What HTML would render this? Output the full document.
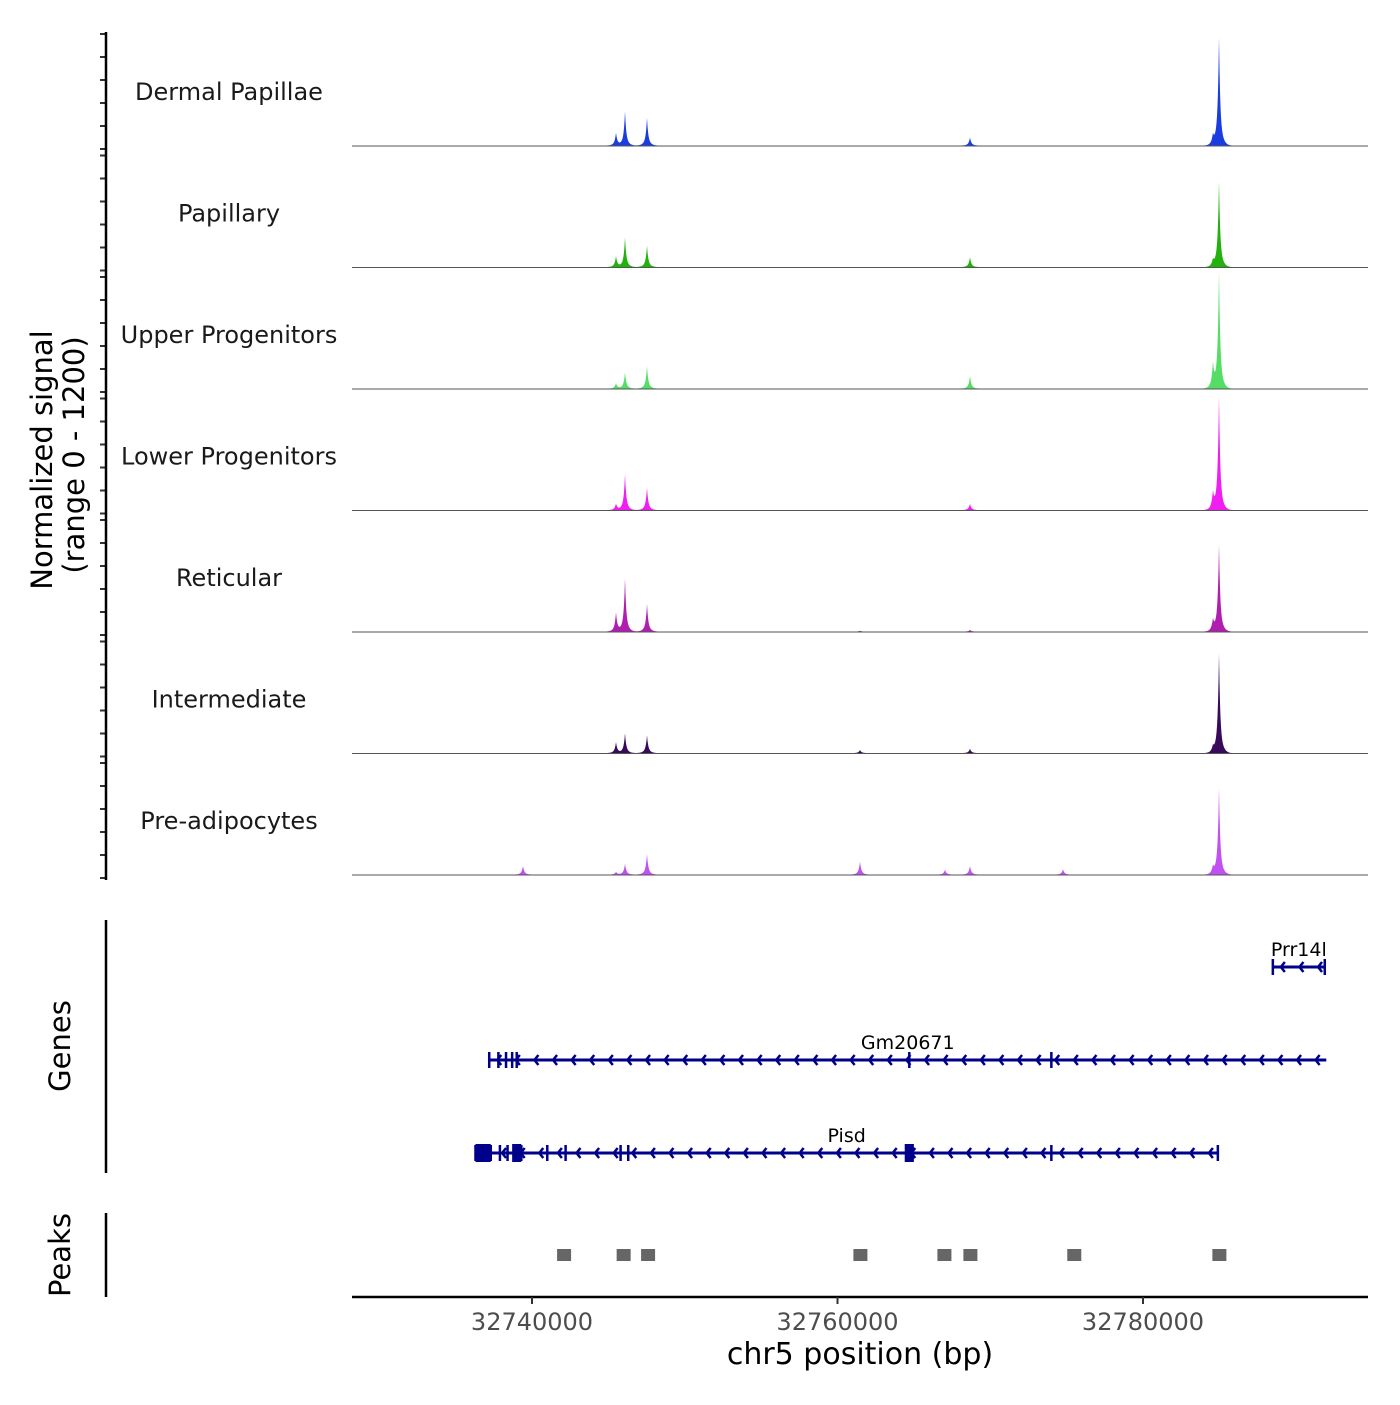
<!DOCTYPE html>
<html><head><meta charset="utf-8"><style>
body{margin:0;background:#fff}
svg text{font-family:"DejaVu Sans","Liberation Sans",sans-serif}
</style></head><body>
<svg id="chart" width="1400" height="1400" xmlns="http://www.w3.org/2000/svg">
<g id="tracks"></g>
<g id="genes"></g>
<g id="peaks"></g>
<g id="axes"></g>
</svg>
<script>
const trackNames=["Dermal Papillae","Papillary","Upper Progenitors","Lower Progenitors","Reticular","Intermediate","Pre-adipocytes"];
const trackColors=["#1a3de0","#22b20e","#55dd66","#f01ef0","#b01eb0","#3a0a5a","#c050f0"];
const peakPositions=[32745499,32746088,32747528,32768674,32784580,32784975,32761472,32739411,32767037,32774762];
const peakHeights=[
[140,380,310,90,100,1200,0,0,0,0],
[120,330,240,110,70,950,0,0,0,0],
[60,180,250,140,260,1300,0,0,0,0],
[70,400,250,70,180,1260,0,0,0,0],
[210,590,310,20,120,960,10,0,0,0],
[120,220,200,50,60,1110,35,0,0,0],
[30,120,230,95,80,960,145,95,55,60]];
const xTicks=[32740000,32760000,32780000];
const peakRegions=[32742100,32746000,32747600,32761500,32767000,32768700,32775500,32785000];
const genes=[{name:"Prr14l",start:32788500,end:32791900,row:0,exons:[32788500,32791900]},
{name:"Gm20671",start:32737200,end:32792000,row:1,exons:[32737200,32737800,32738300,32738700,32739000,32764700,32774000]},
{name:"Pisd",start:32736300,end:32784900,row:2,exons:[32736300,32737300,32737900,32738400,32739300,32741000,32742200,32745800,32746300,32764600,32774000,32784900]}];
const bigExons=[[32736300,32737300],[32738700,32739300],[32764400,32765000]];
const NS="http://www.w3.org/2000/svg";
const X=v=>532+(v-32740000)*305.5/20000;
const H=v=>v*0.0835;
function mk(tag,attrs,parent){const e=document.createElementNS(NS,tag);for(const k in attrs)e.setAttribute(k,attrs[k]);parent.appendChild(e);return e;}
const tracks=document.getElementById('tracks');
trackNames.forEach((name,i)=>{
 const base=146+i*121.5;
 let d="M352,"+base;
 for(let px=352;px<=1368;px+=0.5){
  let h=0.4;
  peakPositions.forEach((p,j)=>{const dx=px-X(p);const v=peakHeights[i][j];h+=H(v)*Math.exp(-Math.abs(dx)/1.3)+H(v)*0.08*Math.exp(-(dx*dx)/40);});
  d+=" L"+px+","+(base-h).toFixed(2);
 }
 d+=" L1368,"+base+" Z";
 const p=mk('path',{d:d,fill:trackColors[i]},tracks);
 
 
 const bl=mk('line',{x1:352,x2:1368,y1:base,y2:base,stroke:"#555","stroke-width":1},tracks);
 
 
 const t=mk('text',{x:229,y:base-46,"text-anchor":"middle","font-size":24,fill:"#1a1a1a"},tracks);
 t.textContent=name;
 
 
 for(let k=0;k<6;k++){const y=base+3-k*23;const tk=mk('line',{x1:100,x2:106,y1:y,y2:y,stroke:"#333","stroke-width":2},tracks);
  
  }
});
const g=document.getElementById('genes');
const col="#00008b";
genes.forEach(gn=>{
 const y=967+gn.row*93;
 const x1=X(gn.start),x2=X(gn.end);
 const l=mk('line',{x1:x1,x2:x2,y1:y,y2:y,stroke:col,"stroke-width":3},g);
 
 
 for(let x=x1+8;x<x2;x+=18.6){mk('polyline',{points:(x+4)+","+(y-5)+" "+x+","+y+" "+(x+4)+","+(y+5),fill:"none",stroke:col,"stroke-width":2.5},g);}
 gn.exons.forEach(e=>{mk('line',{x1:X(e),x2:X(e),y1:y-8,y2:y+8,stroke:col,"stroke-width":2.5},g);});
 const t=mk('text',{x:(x1+x2)/2,y:y-11,"text-anchor":"middle","font-size":19,fill:"#000"},g);
 t.textContent=gn.name;
 
 
});
bigExons.forEach(b=>{const r=mk('rect',{x:X(b[0]),y:1144,width:X(b[1])-X(b[0]),height:18,fill:col},g);
 
 });
const pk=document.getElementById('peaks');
peakRegions.forEach(p=>{const r=mk('rect',{x:X(p)-7,y:1249,width:14,height:12,fill:"#666"},pk);
 
 });
const ax=document.getElementById('axes');
[[32,880],[920,1173],[1213,1297]].forEach(s=>{mk('line',{x1:106,x2:106,y1:s[0],y2:s[1],stroke:"#000","stroke-width":2.5},ax);});
mk('line',{x1:352,x2:1368,y1:1297,y2:1297,stroke:"#000","stroke-width":2.5},ax);
xTicks.forEach(v=>{mk('line',{x1:X(v),x2:X(v),y1:1297,y2:1304,stroke:"#333","stroke-width":2},ax);
 const t=mk('text',{x:X(v),y:1330,"text-anchor":"middle","font-size":24,fill:"#4d4d4d"},ax);t.textContent=v;
 
 });
</script>
<svg style="position:absolute;left:0;top:0" width="1400" height="1400">
<text x="860" y="1364" text-anchor="middle" font-size="30" font-family="DejaVu Sans, Liberation Sans, sans-serif">chr5 position (bp)</text>
<text transform="translate(52,460) rotate(-90)" text-anchor="middle" font-size="29" font-family="DejaVu Sans, Liberation Sans, sans-serif">Normalized signal</text>
<text transform="translate(84,455) rotate(-90)" text-anchor="middle" font-size="29" font-family="DejaVu Sans, Liberation Sans, sans-serif">(range 0 - 1200)</text>
<text transform="translate(70,1046) rotate(-90)" text-anchor="middle" font-size="29" font-family="DejaVu Sans, Liberation Sans, sans-serif">Genes</text>
<text transform="translate(70,1255) rotate(-90)" text-anchor="middle" font-size="29" font-family="DejaVu Sans, Liberation Sans, sans-serif">Peaks</text>
</svg>
</body></html>
